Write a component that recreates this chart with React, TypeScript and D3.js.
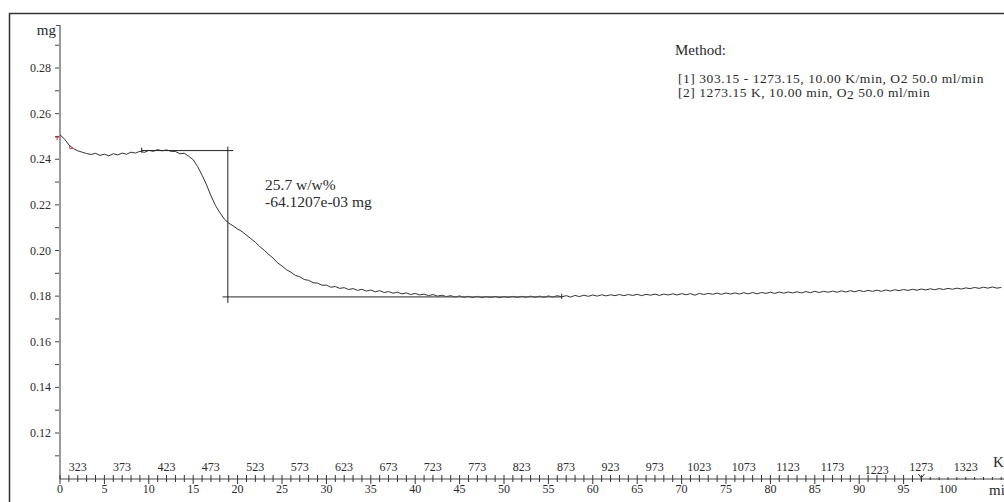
import React, { useRef, useEffect } from 'react';
import * as d3 from 'd3';

// TGA trace, sampled every half minute (mg)
const sampleStep = 0.5;
const massMg = [
  0.2507, 0.2489, 0.2463, 0.2447, 0.2437, 0.2431, 0.2425, 0.2421, 0.2426, 0.2417,
  0.2422, 0.2415, 0.2424, 0.2419, 0.2427, 0.2422, 0.2431, 0.2427, 0.2435, 0.2430,
  0.2439, 0.2435, 0.2442, 0.2437, 0.2441, 0.2435, 0.2434, 0.2424, 0.2426, 0.2413,
  0.2398, 0.2368, 0.2330, 0.2288, 0.2240, 0.2198, 0.2166, 0.2138, 0.2120, 0.2108,
  0.2094, 0.2083, 0.2067, 0.2052, 0.2036, 0.2017, 0.2001, 0.1983, 0.1967, 0.1946,
  0.1932, 0.1916, 0.1905, 0.1891, 0.1885, 0.1873, 0.1869, 0.1859, 0.1857, 0.1848,
  0.1848, 0.1839, 0.1842, 0.1834, 0.1837, 0.1829, 0.1833, 0.1825, 0.1830, 0.1822,
  0.1827, 0.1819, 0.1824, 0.1816, 0.1820, 0.1813, 0.1817, 0.1810, 0.1814, 0.1807,
  0.1812, 0.1805, 0.1809, 0.1802, 0.1807, 0.1800, 0.1804, 0.1798, 0.1802, 0.1796,
  0.1801, 0.1795, 0.1799, 0.1794, 0.1799, 0.1793, 0.1798, 0.1794, 0.1799, 0.1793,
  0.1798, 0.1794, 0.1799, 0.1794, 0.1799, 0.1795, 0.1800, 0.1795, 0.1800, 0.1795,
  0.1801, 0.1796, 0.1802, 0.1797, 0.1802, 0.1796, 0.1803, 0.1798, 0.1804, 0.1799,
  0.1805, 0.1800, 0.1806, 0.1801, 0.1806, 0.1802, 0.1807, 0.1802, 0.1807, 0.1803,
  0.1808, 0.1802, 0.1808, 0.1804, 0.1809, 0.1803, 0.1809, 0.1805, 0.1810, 0.1805,
  0.1811, 0.1806, 0.1811, 0.1804, 0.1812, 0.1807, 0.1812, 0.1808, 0.1813, 0.1808,
  0.1814, 0.1809, 0.1814, 0.1809, 0.1815, 0.1810, 0.1816, 0.1810, 0.1816, 0.1812,
  0.1817, 0.1812, 0.1818, 0.1813, 0.1818, 0.1814, 0.1819, 0.1814, 0.1820, 0.1815,
  0.1821, 0.1816, 0.1821, 0.1817, 0.1822, 0.1817, 0.1823, 0.1818, 0.1824, 0.1819,
  0.1825, 0.1820, 0.1825, 0.1821, 0.1826, 0.1821, 0.1827, 0.1822, 0.1828, 0.1824,
  0.1829, 0.1825, 0.1830, 0.1826, 0.1831, 0.1827, 0.1832, 0.1828, 0.1833, 0.1829,
  0.1834, 0.1830, 0.1835, 0.1831, 0.1836, 0.1833, 0.1838, 0.1834, 0.1839, 0.1835,
  0.1840, 0.1835, 0.1838,
];

const yTickValues = [0.12, 0.14, 0.16, 0.18, 0.20, 0.22, 0.24, 0.26, 0.28];
const minuteLabels = [0, 5, 10, 15, 20, 25, 30, 35, 40, 45, 50, 55, 60, 65, 70, 75, 80, 85, 90, 95, 100];
const tempLabels = [323, 373, 423, 473, 523, 573, 623, 673, 723, 773, 823, 873, 923, 973,
  1023, 1073, 1123, 1173, 1223, 1273, 1323];
const startTemp = 303.15;
const heatRate = 10; // K/min
const rampEnd = 97; // min

// step evaluation
const stepUpper = 0.2438;
const stepLower = 0.17968;
const stepUpperFrom = 9.2;
const stepUpperTo = 19.5;
const stepLowerFrom = 18.3;
const stepLowerTo = 56.5;
const stepAt = 18.9;

const methodLines = ['[1] 303.15 - 1273.15, 10.00 K/min, O2 50.0 ml/min'];

const FONT = '"Liberation Serif", "Times New Roman", serif';
const INK = '#2b2b2b';

const TgaChart = () => {
  const svgRef = useRef(null);

  useEffect(() => {
    const svg = d3.select(svgRef.current);
    svg.selectAll('*').remove();

    const x = d3.scaleLinear().domain([0, 100]).range([60, 948]);
    const y = d3.scaleLinear().domain([0.12, 0.28]).range([433, 68]);
    const axisY = 479;

    // frame
    svg.append('rect')
       .attr('x', 9.5).attr('y', 13.5)
       .attr('width', 1000).attr('height', 500)
       .attr('fill', 'none').attr('stroke', '#333').attr('stroke-width', 1.5);

    // y axis
    svg.append('line')
       .attr('x1', 60).attr('x2', 60).attr('y1', 25).attr('y2', axisY)
       .attr('stroke', '#555').attr('stroke-width', 1.2);
    svg.append('line')
       .attr('x1', 56).attr('x2', 60).attr('y1', 25.5).attr('y2', 25.5)
       .attr('stroke', '#555');
    const minorY = d3.range(11, 30).map(v => v / 100);
    svg.selectAll('.ytick')
       .data(minorY)
       .join('line')
       .attr('x1', 55).attr('x2', 59)
       .attr('y1', d => y(d)).attr('y2', d => y(d))
       .attr('stroke', '#444');
    svg.selectAll('.ylab')
       .data(yTickValues)
       .join('text')
       .attr('x', 51).attr('y', d => y(d) + 4)
       .attr('text-anchor', 'end')
       .attr('font-family', FONT).attr('font-size', 12).attr('fill', INK)
       .text(d => d.toFixed(2));
    svg.append('text')
       .attr('x', 56).attr('y', 35)
       .attr('text-anchor', 'end')
       .attr('font-family', FONT).attr('font-size', 15).attr('fill', INK)
       .text('mg');

    // x axis
    svg.append('line')
       .attr('x1', 60).attr('x2', 1004).attr('y1', axisY).attr('y2', axisY)
       .attr('stroke', '#444').attr('stroke-width', 1.2);
    const minutes = d3.range(0, 107, 1);
    svg.append('g')
       .selectAll('line')
       .data(minutes)
       .join('line')
       .attr('x1', d => x(d)).attr('x2', d => x(d))
       .attr('y1', d => axisY - (d <= rampEnd ? 4 : 2))
       .attr('y2', d => axisY + (d <= rampEnd ? (d % 5 === 0 ? 5 : 3) : 1))
       .attr('stroke', '#333');
    svg.append('g')
       .selectAll('text')
       .data(minuteLabels)
       .join('text')
       .attr('x', d => x(d)).attr('y', 493)
       .attr('text-anchor', 'middle')
       .attr('font-family', FONT).attr('font-size', 12).attr('fill', INK)
       .text(d => d);
    svg.append('g')
       .selectAll('text')
       .data(tempLabels)
       .join('text')
       .attr('x', d => x((d - startTemp) / heatRate)).attr('y', d => d === 1223 ? 474 : 471)
       .attr('text-anchor', 'middle')
       .attr('font-family', FONT).attr('font-size', 12).attr('fill', INK)
       .text(d => d);
    svg.append('text')
       .attr('x', 993).attr('y', 467)
       .attr('font-family', FONT).attr('font-size', 15).attr('fill', INK)
       .text('K');
    svg.append('text')
       .attr('x', 989).attr('y', 495)
       .attr('font-family', FONT).attr('font-size', 15).attr('fill', INK)
       .text('mi');
    // end of ramp marker
    const xr = x(rampEnd);
    svg.append('path')
       .attr('d', `M${xr - 3},${axisY - 5} L${xr},${axisY - 1} L${xr + 3},${axisY - 5} M${xr},${axisY - 1} V${axisY + 2}`)
       .attr('fill', 'none').attr('stroke', '#333');

    // curve
    const pts = massMg.map((m, i) => [i * sampleStep, m]);
    const line = d3.line().x(d => x(d[0])).y(d => y(d[1]));
    svg.append('path')
       .datum(pts)
       .attr('d', line)
       .attr('fill', 'none').attr('stroke', '#333').attr('stroke-width', 1)
       .attr('stroke-linejoin', 'round');

    // step construction lines
    svg.append('line')
       .attr('x1', x(stepUpperFrom)).attr('x2', x(stepUpperTo))
       .attr('y1', y(stepUpper)).attr('y2', y(stepUpper))
       .attr('stroke', '#222');
    svg.append('line')
       .attr('x1', x(stepLowerFrom)).attr('x2', x(stepLowerTo))
       .attr('y1', y(stepLower)).attr('y2', y(stepLower))
       .attr('stroke', '#555').attr('stroke-width', 1.3);
    svg.append('line')
       .attr('x1', x(stepAt)).attr('x2', x(stepAt))
       .attr('y1', y(stepUpper) - 4).attr('y2', y(stepLower) + 6)
       .attr('stroke', '#222');
    [[stepUpperFrom, stepUpper], [stepLowerTo, stepLower]].forEach(([t, m]) => {
      svg.append('line')
         .attr('x1', x(t)).attr('x2', x(t))
         .attr('y1', y(m) - 3).attr('y2', y(m) + 2)
         .attr('stroke', '#222');
    });

    // red start markers
    svg.append('path')
       .attr('d', `M${x(-0.55)},${y(0.2497)} h4 M${x(-0.33)},${y(0.2497)} v3`)
       .attr('fill', 'none').attr('stroke', '#d33').attr('stroke-width', 1);
    svg.append('path')
       .attr('d', `M${x(1.1)},${y(0.2460)} v3 h3`)
       .attr('fill', 'none').attr('stroke', '#d33').attr('stroke-width', 1);

    // step annotation
    const ann = svg.append('text')
       .attr('font-family', FONT).attr('font-size', 15.5).attr('fill', INK);
    ann.append('tspan').attr('x', 265).attr('y', 190).text('25.7 w/w%');
    ann.append('tspan').attr('x', 265).attr('y', 207).text('-64.1207e-03 mg');

    // method block
    svg.append('text')
       .attr('x', 675).attr('y', 55)
       .attr('font-family', FONT).attr('font-size', 15).attr('fill', INK)
       .text('Method:');
    svg.append('text')
       .attr('x', 678).attr('y', 83)
       .attr('font-family', FONT).attr('font-size', 13.5).attr('letter-spacing', 0.55).attr('fill', INK)
       .text(methodLines[0]);
    const l2 = svg.append('text')
       .attr('x', 678).attr('y', 97)
       .attr('font-family', FONT).attr('font-size', 13.5).attr('letter-spacing', 0.55).attr('fill', INK);
    l2.append('tspan').text('[2] 1273.15 K, 10.00 min, O');
    l2.append('tspan').attr('dy', 2).text('2');
    l2.append('tspan').attr('dy', -2).text(' 50.0 ml/min');
  }, []);

  return (
    <svg ref={svgRef} width={1004} height={502}
         style={{ position: 'absolute', left: 0, top: 0, background: '#fff' }} />
  );
};

export default function App() {
  return <TgaChart />;
}
